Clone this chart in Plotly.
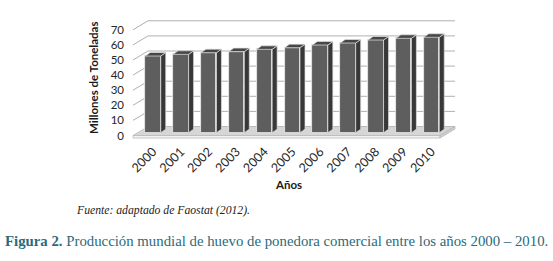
import plotly.graph_objects as go

# ---------------- data ----------------
years = [2000, 2001, 2002, 2003, 2004, 2005, 2006, 2007, 2008, 2009, 2010]
year_labels = [str(y) for y in years]
production = [50.8, 51.9, 53.0, 53.7, 55.2, 56.3, 58.1, 59.4, 61.4, 62.5, 63.2]
y_ticks = [0, 10, 20, 30, 40, 50, 60, 70]

# ---------------- geometry (pixels -> axis units) ----------------
W, H = 553, 261
PL, PR, PT, PB = 125, 470, 15, 141          # plot area in px
PX_X = 27.85                                 # px per year
PX_Y = 1.51                                  # px per million tonnes
X0_PX = 153                                  # px of first category
Y0_PX = 135.5                                # px of value 0 on front plane
BAR0_PX = 132.7                              # px of value 0 at bar depth

xr = [years[0] + (PL - X0_PX) / PX_X, years[0] + (PR - X0_PX) / PX_X]
yr = [(Y0_PX - PB) / PX_Y, (Y0_PX - PT) / PX_Y]
bar_shift = (Y0_PX - BAR0_PX) / PX_Y
yr2 = [yr[0] - bar_shift, yr[1] - bar_shift]

DX = 15 / PX_X      # full depth offset in x units
DY = 9 / PX_Y       # full depth offset in y units
FL = years[0] - 20 / PX_X
FR = years[0] + 287 / PX_X
T = 2.5 / PX_Y      # floor thickness

BW = 15.5 / PX_X    # bar width
BDX = 5 / PX_X      # bar depth x
BDY = 3.5 / PX_Y    # bar depth y

GRID = "#b0b0b0"
fig = go.Figure()

# back wall gridlines
gx, gy = [], []
for v in y_ticks:
    gx += [FL + DX, FR + DX, None]
    gy += [v + DY, v + DY, None]
fig.add_trace(go.Scatter(x=gx, y=gy, mode="lines", line=dict(color=GRID, width=1),
                         hoverinfo="skip", showlegend=False))
# left wall diagonals
lx, ly = [], []
for v in y_ticks[1:]:
    lx += [FL, FL + DX, None]
    ly += [v, v + DY, None]
fig.add_trace(go.Scatter(x=lx, y=ly, mode="lines", line=dict(color=GRID, width=1),
                         hoverinfo="skip", showlegend=False))
# floor top
fig.add_trace(go.Scatter(x=[FL, FR, FR + DX, FL + DX, FL], y=[0, 0, DY, DY, 0],
                         mode="lines", fill="toself", fillcolor="#d6d6d6",
                         line=dict(color="#b8b8b8", width=0.8), hoverinfo="skip", showlegend=False))
# floor front slab
fig.add_trace(go.Scatter(x=[FL, FR, FR, FL, FL], y=[0, 0, -T, -T, 0],
                         mode="lines", fill="toself", fillcolor="#f2f2f2",
                         line=dict(color="#b8b8b8", width=0.8), hoverinfo="skip", showlegend=False))
# floor right slab
fig.add_trace(go.Scatter(x=[FR, FR + DX, FR + DX, FR, FR], y=[0, DY, DY - T, -T, 0],
                         mode="lines", fill="toself", fillcolor="#cfcfcf",
                         line=dict(color="#b8b8b8", width=0.8), hoverinfo="skip", showlegend=False))

# bars (front faces)
fig.add_trace(go.Bar(x=years, y=production, width=BW, xaxis="x", yaxis="y2",
                     marker=dict(color="#5e5e5e", line=dict(color="#ececec", width=0.8)),
                     showlegend=False))
# side and top faces
sx, sy, tx, ty = [], [], [], []
for x, v in zip(years, production):
    r = x + BW / 2
    l = x - BW / 2
    sx += [r, r + BDX, r + BDX, r, r, None]
    sy += [0, BDY, v + BDY, v, 0, None]
    tx += [l, l + BDX, r + BDX, r, l, None]
    ty += [v, v + BDY, v + BDY, v, v, None]
fig.add_trace(go.Scatter(x=sx, y=sy, xaxis="x", yaxis="y2", mode="lines", fill="toself",
                         fillcolor="#383838", line=dict(color="#e0e0e0", width=0.7),
                         hoverinfo="skip", showlegend=False))
fig.add_trace(go.Scatter(x=tx, y=ty, xaxis="x", yaxis="y2", mode="lines", fill="toself",
                         fillcolor="#464646", line=dict(color="#e0e0e0", width=0.7),
                         hoverinfo="skip", showlegend=False))

FONT = "Lato, Open Sans, sans-serif"
fig.update_layout(
    width=W, height=H, margin=dict(l=PL, r=W - PR, t=PT, b=H - PB),
    paper_bgcolor="white", plot_bgcolor="rgba(0,0,0,0)",
    bargap=0,
    xaxis=dict(range=xr, tickmode="array", tickvals=years, ticktext=year_labels,
               tickangle=-45, showgrid=False, zeroline=False, showline=False, ticks="",
               automargin=False,
               tickfont=dict(family=FONT, size=12.5, color="#262626")),
    yaxis=dict(range=yr, tickmode="array", tickvals=y_ticks, showgrid=False, zeroline=False,
               showline=False, ticks="", automargin=False,
               tickfont=dict(family=FONT, size=11.5, color="#262626")),
    yaxis2=dict(range=yr2, overlaying="y", visible=False),
)

def px(xp):
    return (xp - PL) / (PR - PL)

def py(yp):
    return (PB - yp) / (PB - PT)

def note(text, x, y, font, angle=0):
    fig.add_annotation(text=text, textangle=angle, xref="paper", yref="paper",
                       x=px(x), y=py(y), xanchor="center", yanchor="middle",
                       showarrow=False, font=font)

note("<b>Millones de Toneladas</b>", 93, 78, dict(family=FONT, size=11.5, color="#1a1a1a"), -90)
note("<b>Años</b>", 288, 184, dict(family=FONT, size=11.5, color="#1a1a1a"))
note("<i>Fuente: adaptado de Faostat (2012).</i>", 162.5, 210,
     dict(family="Liberation Serif, serif", size=11.7, color="#222222"))
note("<b>Figura 2.</b> Producción mundial de huevo de ponedora comercial entre los años 2000 – 2010.",
     276.5, 241, dict(family="Liberation Serif, serif", size=14.8, color="#2a6b7c"))

fig.write_html("out.html", config={"displayModeBar": False},
               post_script="document.body.style.margin='0px';")
